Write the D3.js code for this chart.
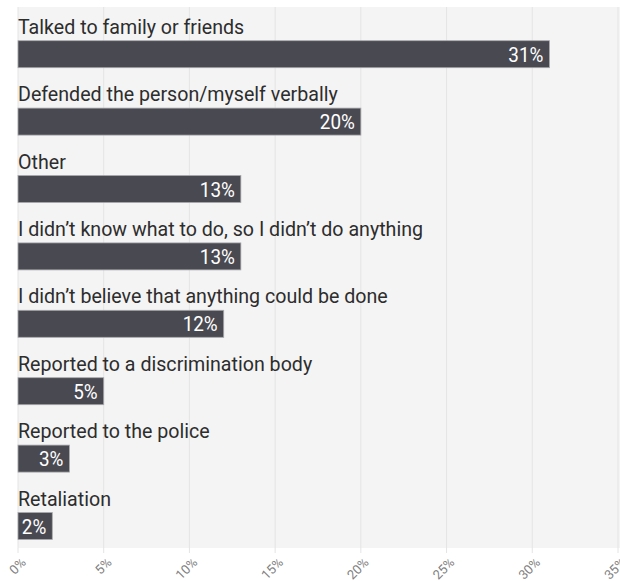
<!DOCTYPE html>
<html>
<head>
<meta charset="utf-8">
<script src="https://cdn.jsdelivr.net/npm/d3@7"></script>
<style>
  html, body { margin: 0; padding: 0; background: #ffffff; }
  svg { display: block; }
</style>
</head>
<body>
<svg id="chart" width="620" height="581"></svg>
<script>
// Responses to the incident, share of respondents (%)
const categories = [
  "Talked to family or friends",
  "Defended the person/myself verbally",
  "Other",
  "I didn\u2019t know what to do, so I didn\u2019t do anything",
  "I didn\u2019t believe that anything could be done",
  "Reported to a discrimination body",
  "Reported to the police",
  "Retaliation"
];
const values = [31, 20, 13, 13, 12, 5, 3, 2];
const tickValues = [0, 5, 10, 15, 20, 25, 30, 35];

const svg = d3.select("#chart");
const plot = { left: 18, right: 618, top: 7, bottom: 548 };
const rowStep = 67.4, barTop0 = 33.7, barH = 27;

const x = d3.scaleLinear().domain([0, 35]).range([plot.left, plot.right]);
const rowY = d3.scaleBand().domain(categories)
  .range([plot.top, plot.top + rowStep * categories.length]).padding(0);

// panel background
svg.append("rect")
  .attr("x", plot.left).attr("y", plot.top)
  .attr("width", plot.right - plot.left + 2).attr("height", plot.bottom - plot.top)
  .attr("fill", "#f4f4f4");

// vertical gridlines
svg.append("g").selectAll("line").data(tickValues).join("line")
  .attr("x1", d => x(d)).attr("x2", d => x(d))
  .attr("y1", plot.top).attr("y2", plot.bottom + 5)
  .attr("stroke", "#e4e4e4").attr("stroke-width", 1);

// x axis labels, rotated
const axis = d3.axisBottom(x).tickValues(tickValues).tickFormat(d => d + "%").tickSize(0);
const gAxis = svg.append("g").attr("transform", `translate(0,${plot.bottom + 8})`).call(axis);
gAxis.select(".domain").remove();
gAxis.selectAll("text")
  .attr("font-family", "Roboto, sans-serif").attr("font-size", 13)
  .attr("fill", "#808080").attr("text-anchor", "end")
  .attr("x", 0).attr("y", 0).attr("dy", "0.35em")
  .attr("transform", "translate(5,4) rotate(-45)");

const rows = svg.append("g").selectAll("g").data(categories).join("g")
  .attr("transform", d => `translate(0,${rowY(d)})`);

// category labels (slightly condensed)
rows.append("text")
  .attr("transform", `translate(${plot.left},${barTop0 - 7}) scale(0.935,1)`)
  .attr("font-family", "Roboto, sans-serif").attr("font-size", 21)
  .attr("fill", "#2d2d2d")
  .text(d => d);

// bars
rows.append("rect")
  .attr("x", plot.left).attr("y", barTop0)
  .attr("width", (d, i) => x(values[i]) - x(0)).attr("height", barH)
  .attr("fill", "#494951").attr("stroke", "#a9a9ad").attr("stroke-width", 0.8);

// value labels inside bar ends
rows.append("text")
  .attr("transform", (d, i) => `translate(${x(values[i]) - 6},${barTop0 + 21}) scale(0.9,1)`)
  .attr("text-anchor", "end")
  .attr("font-family", "Roboto, sans-serif").attr("font-size", 21)
  .attr("fill", "#ffffff")
  .text((d, i) => values[i] + "%");
</script>
</body>
</html>
